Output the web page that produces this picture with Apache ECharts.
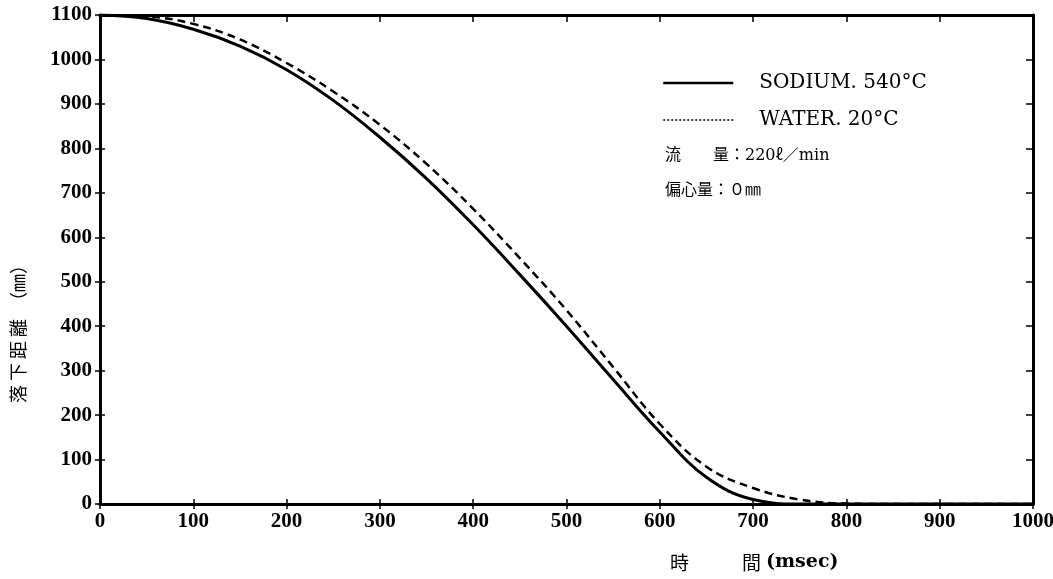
<!DOCTYPE html>
<html>
<head>
<meta charset="utf-8">
<script src="https://cdn.jsdelivr.net/npm/echarts@6/dist/echarts.min.js"></script>
<style>
  html, body { margin: 0; padding: 0; background: #fff; }
  #chart { width: 1053px; height: 579px; }
</style>
</head>
<body>
<div id="chart"></div>
<script>
// 時間 (msec)
const timeMs = [0, 50, 100, 150, 200, 250, 300, 350, 400, 450, 500, 550, 600, 650, 700, 750, 800, 850, 900, 950, 1000]
// 落下距離 (mm)
const sodium = [1100, 1092, 1068, 1030, 977, 908, 825, 732, 628, 516, 400, 280, 162, 60, 10, 0, 0, 0, 0, 0, 0]
const water = [1100, 1097, 1080, 1045, 992, 928, 853, 765, 664, 553, 436, 308, 180, 84, 36, 10, 1, 0, 0, 0, 0]
const xTicks = [0, 1000, 100]
const yTicks = [0, 1100, 100]

const seriesNames = ['SODIUM. 540°C', 'WATER. 20°C']
const noteLines = ['流　　量：220ℓ／min', '偏心量：０㎜']

const chart = echarts.init(document.getElementById('chart'))
const numFont = { color: '#000', fontFamily: 'Liberation Serif', fontWeight: 'bold', fontSize: 21 }
const cjkFont = '"Noto Sans CJK JP"'

function pairs(ys) {
    return timeMs.map((t, i) => [t, ys[i]])
}

let baseX = {
    type: 'value',
    min: xTicks[0],
    max: xTicks[1],
    interval: xTicks[2],
    splitLine: { show: false },
    axisLine: { show: true, onZero: false, lineStyle: { color: '#000', width: 3 } },
}
let baseY = {
    type: 'value',
    min: yTicks[0],
    max: yTicks[1],
    interval: yTicks[2],
    splitLine: { show: false },
    axisLine: { show: true, onZero: false, lineStyle: { color: '#000', width: 3 } },
}

let option = {
    animation: false,
    backgroundColor: '#fff',
    grid: { left: 100, right: 20, top: 15, bottom: 75, outerBoundsMode: 'none', containLabel: false },
    xAxis: [
        Object.assign({}, baseX, {
            position: 'bottom',
            axisTick: { show: true, inside: false, length: 5, lineStyle: { color: '#000', width: 1.5 } },
            axisLabel: Object.assign({ margin: 7, formatter: v => String(v) }, numFont),
        }),
        Object.assign({}, baseX, {
            position: 'bottom',
            axisLine: { show: false },
            axisTick: { show: true, inside: true, length: 5, lineStyle: { color: '#000', width: 1.5 } },
            axisLabel: { show: false },
        }),
        Object.assign({}, baseX, {
            position: 'top',
            axisTick: { show: true, inside: true, length: 7, lineStyle: { color: '#000', width: 1.5 } },
            axisLabel: { show: false },
        }),
    ],
    yAxis: [
        Object.assign({}, baseY, {
            position: 'left',
            axisTick: { show: true, inside: false, length: 5, lineStyle: { color: '#000', width: 1.5 } },
            axisLabel: Object.assign({ margin: 8, formatter: v => String(v) }, numFont),
        }),
        Object.assign({}, baseY, {
            position: 'left',
            axisLine: { show: false },
            axisTick: { show: true, inside: true, length: 5, lineStyle: { color: '#000', width: 1.5 } },
            axisLabel: { show: false },
        }),
        Object.assign({}, baseY, {
            position: 'right',
            axisTick: { show: true, inside: true, length: 7, lineStyle: { color: '#000', width: 1.5 } },
            axisLabel: { show: false },
        }),
    ],
    legend: {
        orient: 'vertical',
        left: 657,
        top: 66,
        itemWidth: 70,
        itemHeight: 14,
        itemGap: 13,
        textStyle: { color: '#000', fontFamily: 'DejaVu Serif', fontSize: 20, lineHeight: 24, padding: [0, 0, 0, 21] },
        data: [
            { name: seriesNames[0], itemStyle: { opacity: 0 }, lineStyle: { width: 2.5, type: 'solid' } },
            { name: seriesNames[1], itemStyle: { opacity: 0 }, lineStyle: { width: 1.5, type: [2, 2] } },
        ],
    },
    graphic: [
        {
            type: 'text',
            left: 665,
            top: 148,
            style: { text: noteLines[0], fill: '#000', font: '16px "DejaVu Serif", ' + cjkFont },
        },
        {
            type: 'text',
            left: 665,
            top: 183,
            style: { text: noteLines[1], fill: '#000', font: '16px "DejaVu Serif", ' + cjkFont },
        },
        {
            type: 'text',
            left: 670,
            top: 553,
            style: { text: '時', fill: '#000', font: '19px ' + cjkFont },
        },
        {
            type: 'text',
            left: 742,
            top: 553,
            style: { text: '間', fill: '#000', font: '19px ' + cjkFont },
        },
        {
            type: 'text',
            left: 766,
            top: 553,
            style: { text: '(msec)', fill: '#000', font: 'bold 19px "DejaVu Serif"' },
        },
        {
            type: 'text',
            x: 9,
            y: 403,
            rotation: Math.PI / 2,
            style: { text: '落 下 距 離　（㎜）', fill: '#000', font: '18px ' + cjkFont },
        },
    ],
    series: [
        {
            name: seriesNames[0],
            type: 'line',
            xAxisIndex: 0,
            yAxisIndex: 0,
            smooth: 0.4,
            symbol: 'none',
            lineStyle: { color: '#000', width: 3 },
            itemStyle: { color: '#000' },
            data: pairs(sodium),
        },
        {
            name: seriesNames[1],
            type: 'line',
            xAxisIndex: 0,
            yAxisIndex: 0,
            smooth: 0.4,
            symbol: 'none',
            lineStyle: { color: '#000', width: 2.5, type: [8, 5] },
            itemStyle: { color: '#000' },
            data: pairs(water),
        },
    ],
}
chart.setOption(option)
</script>
</body>
</html>
